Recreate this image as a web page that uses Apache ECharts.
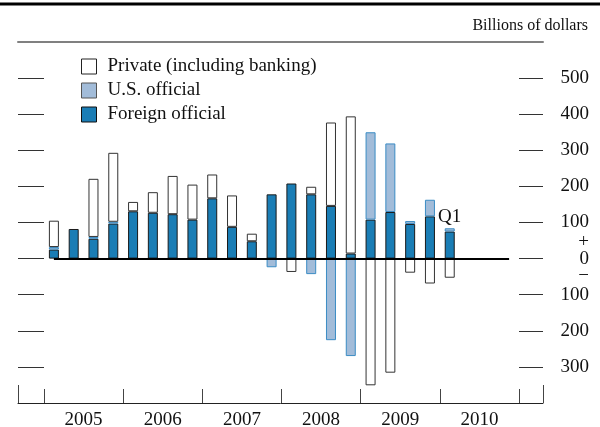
<!DOCTYPE html>
<html>
<head>
<meta charset="utf-8">
<script src="https://cdn.jsdelivr.net/npm/echarts@6/dist/echarts.min.js"></script>
<style>
html,body{margin:0;padding:0;background:#fff;}
#chart{width:600px;height:427px;}
</style>
</head>
<body>
<div id="chart"></div>
<script>
// ---- Data (billions of dollars), quarterly 2005Q1 .. 2010Q4 ----
var quarters = ['2005Q1','2005Q2','2005Q3','2005Q4','2006Q1','2006Q2','2006Q3','2006Q4',
  '2007Q1','2007Q2','2007Q3','2007Q4','2008Q1','2008Q2','2008Q3','2008Q4',
  '2009Q1','2009Q2','2009Q3','2009Q4','2010Q1','2010Q2','2010Q3','2010Q4'];
var years = ['2005','2006','2007','2008','2009','2010'];
var foreignOfficial = [25, 82, 55, 97, 131, 127, 123, 108, 167, 88, 48, 178, 208, 178, 146, 14, 108, 129, 96, 117, 75, '-', '-', '-'];
var usOfficial = [7, '-', 5, 5, '-', '-', '-', '-', '-', '-', '-', -24, '-', -43, -226, -270, 242, 190, 8, 46, 9, '-', '-', '-'];
var privateFlows = [73, '-', 161, 191, 26, 57, 106, 97, 66, 87, 21, '-', -37, 21, 231, 380, -351, -316, -39, -69, -53, '-', '-', '-'];
var yTicks = [-300, -200, -100, 0, 100, 200, 300, 400, 500];
var lastLabelIndex = 20;
var lastLabelText = 'Q1';

var FONT = '"Liberation Serif", "DejaVu Serif", serif';
var C_FOREIGN = '#1a7db5', C_US = '#a2bcd9', C_PRIV = '#ffffff';

var usData = usOfficial.map(function (v, i) {
  if (i === lastLabelIndex) {
    return {value: v, label: {show: true, position: 'top', distance: 2, formatter: lastLabelText,
      fontFamily: FONT, fontSize: 19, color: '#111'}};
  }
  return v;
});

function yLabel(v) {
  if (v === 0) return '+\n0\n\u2212';
  if (v >= 600 || v <= -400) return '';
  return String(Math.abs(v));
}

var chart = echarts.init(document.getElementById('chart'), null, {renderer: 'canvas'});
var option = {
  animation: false,
  backgroundColor: '#fff',
  title: {
    text: 'Billions of dollars', right: 7, top: 13,
    textStyle: {fontFamily: FONT, fontSize: 16, fontWeight: 'normal', color: '#111'}
  },
  legend: {
    orient: 'vertical', left: 76, top: 52,
    itemWidth: 15, itemHeight: 15, itemGap: 5,
    icon: 'rect',
    textStyle: {fontFamily: FONT, fontSize: 19, lineHeight: 16, color: '#111', padding: [0, 0, 0, 6]},
    data: [
      {name: 'Private (including banking)', itemStyle: {color: C_PRIV, borderColor: '#222', borderWidth: 1}},
      {name: 'U.S. official', itemStyle: {color: C_US, borderColor: '#555', borderWidth: 1}},
      {name: 'Foreign official', itemStyle: {color: C_FOREIGN, borderColor: '#111', borderWidth: 1}}
    ]
  },
  graphic: [{
    type: 'line', shape: {x1: 0, y1: 4, x2: 600, y2: 4},
    style: {stroke: '#000', lineWidth: 3}
  }],
  grid: [
    {left: 18, right: 57, top: 42, bottom: 24, containLabel: false, outerBoundsMode: 'none'},
    {left: 44, right: 81, top: 42, bottom: 24, containLabel: false, outerBoundsMode: 'none'}
  ],
  xAxis: [
    {gridIndex: 0, type: 'value', min: 0, max: 1, interval: 1, position: 'bottom',
      axisLine: {show: true, onZero: false, lineStyle: {color: '#222', width: 1}},
      axisTick: {show: true, inside: true, length: 18, lineStyle: {color: '#444'}},
      axisLabel: {show: false}, splitLine: {show: false}},
    {gridIndex: 0, type: 'value', min: 0, max: 1, position: 'top',
      axisLine: {show: true, onZero: false, lineStyle: {color: '#808080', width: 2}},
      axisTick: {show: false}, axisLabel: {show: false}, splitLine: {show: false}},
    {gridIndex: 1, type: 'category', data: quarters, show: false},
    {gridIndex: 1, type: 'category', data: years, position: 'bottom',
      axisLine: {show: false, onZero: false},
      axisTick: {show: true, inside: true, length: 14, lineStyle: {color: '#444'}},
      axisLabel: {show: true, fontFamily: FONT, fontSize: 19, color: '#111', margin: 8},
      splitLine: {show: false}}
  ],
  yAxis: [
    {gridIndex: 1, type: 'value', min: -400, max: 600, interval: 100, position: 'left',
      axisLine: {show: false, onZero: false},
      axisTick: {show: true, inside: false, length: 26, customValues: yTicks, lineStyle: {color: '#333'}},
      axisLabel: {show: false}, splitLine: {show: false}},
    {gridIndex: 1, type: 'value', min: -400, max: 600, interval: 100, position: 'right',
      axisLine: {show: false, onZero: false},
      axisTick: {show: true, inside: false, length: 24, customValues: yTicks, lineStyle: {color: '#333'}},
      axisLabel: {show: true, customValues: yTicks, align: 'right', margin: 70,
        fontFamily: FONT, fontSize: 19, color: '#111', lineHeight: 17,
        formatter: yLabel},
      splitLine: {show: false}},
    {gridIndex: 0, type: 'value', min: 0, max: 1, show: false}
  ],
  series: [
    {name: 'Foreign official', type: 'bar', stack: 'flows', xAxisIndex: 2, yAxisIndex: 0,
      barWidth: 10, data: foreignOfficial,
      itemStyle: {color: C_FOREIGN, borderColor: '#1a1a1a', borderWidth: 1},
      markLine: {silent: true, symbol: 'none', label: {show: false},
        lineStyle: {color: '#000', width: 2, type: 'solid'},
        data: [[{coord: [0, 0]}, {coord: [quarters.length - 1, 0]}]]}},
    {name: 'U.S. official', type: 'bar', stack: 'flows', xAxisIndex: 2, yAxisIndex: 0,
      barWidth: 10, data: usData,
      itemStyle: {color: C_US, borderColor: '#3b8cc4', borderWidth: 1}},
    {name: 'Private (including banking)', type: 'bar', stack: 'flows', xAxisIndex: 2, yAxisIndex: 0,
      barWidth: 10, data: privateFlows,
      itemStyle: {color: C_PRIV, borderColor: '#333', borderWidth: 1}}
  ]
};
chart.setOption(option);
</script>
</body>
</html>
